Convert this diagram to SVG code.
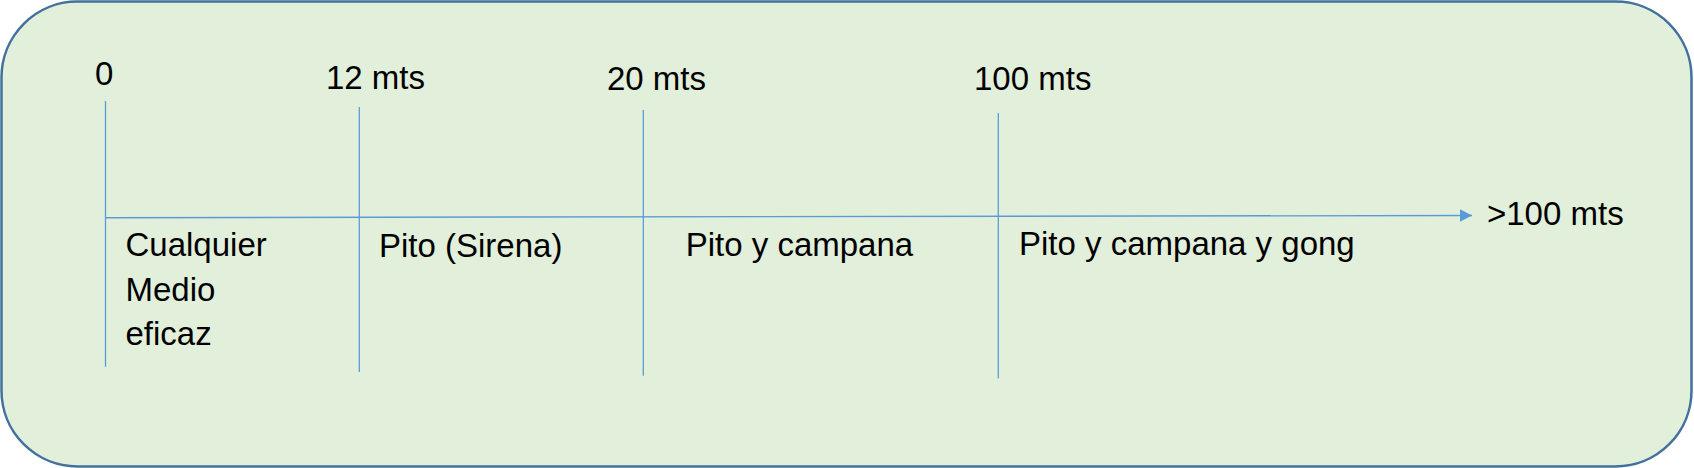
<svg xmlns="http://www.w3.org/2000/svg" width="1694" height="468" viewBox="0 0 1694 468">
  <style>
    .lbl { font-family: "Liberation Sans", Arial, sans-serif; font-size: 33px; fill: #000000; }
    .tick { stroke: #5B9BD5; stroke-width: 1.3; fill: none; }
    .axis { stroke: #5B9BD5; stroke-width: 1.4; fill: none; }
  </style>
  <defs>
    <marker id="arrow" markerUnits="userSpaceOnUse" markerWidth="13" markerHeight="13" refX="12" refY="6.25" orient="auto">
      <path d="M0,0 L12,6.25 L0,12.5 Z" fill="#5B9BD5"/>
    </marker>
  </defs>
  <g id="background">
    <rect x="1.5" y="1.5" width="1690" height="465" rx="76" ry="76" fill="#E2EFDA" stroke="#41719C" stroke-width="2.5"/>
  </g>
  <g id="connectors">
    <line id="axis" class="axis" x1="105.5" y1="217.7" x2="1472" y2="215.5" marker-end="url(#arrow)"/>
    <line id="tick-0" class="tick" x1="105.5" y1="101" x2="105.5" y2="366.7"/>
    <line id="tick-12" class="tick" x1="359.3" y1="107" x2="359.3" y2="372"/>
    <line id="tick-20" class="tick" x1="643.3" y1="110" x2="643.3" y2="375.7"/>
    <line id="tick-100" class="tick" x1="998.3" y1="113" x2="998.3" y2="378.3"/>
  </g>
  <g id="label-0"><text class="lbl" x="95" y="84.5">0</text></g>
  <g id="label-12"><text class="lbl" x="326" y="89.3">12 mts</text></g>
  <g id="label-20"><text class="lbl" x="607" y="90">20 mts</text></g>
  <g id="label-100"><text class="lbl" x="974" y="90">100 mts</text></g>
  <g id="label-gt100"><text class="lbl" x="1487" y="225">&gt;100 mts</text></g>
  <g id="zone-0-12">
    <text class="lbl" x="125.5" y="256">Cualquier</text>
    <text class="lbl" x="125.5" y="300.7">Medio</text>
    <text class="lbl" x="125.5" y="345">eficaz</text>
  </g>
  <g id="zone-12-20"><text class="lbl" x="379" y="256.5">Pito (Sirena)</text></g>
  <g id="zone-20-100"><text class="lbl" x="685.7" y="256">Pito y campana</text></g>
  <g id="zone-100"><text class="lbl" x="1019" y="255">Pito y campana y gong</text></g>
</svg>
